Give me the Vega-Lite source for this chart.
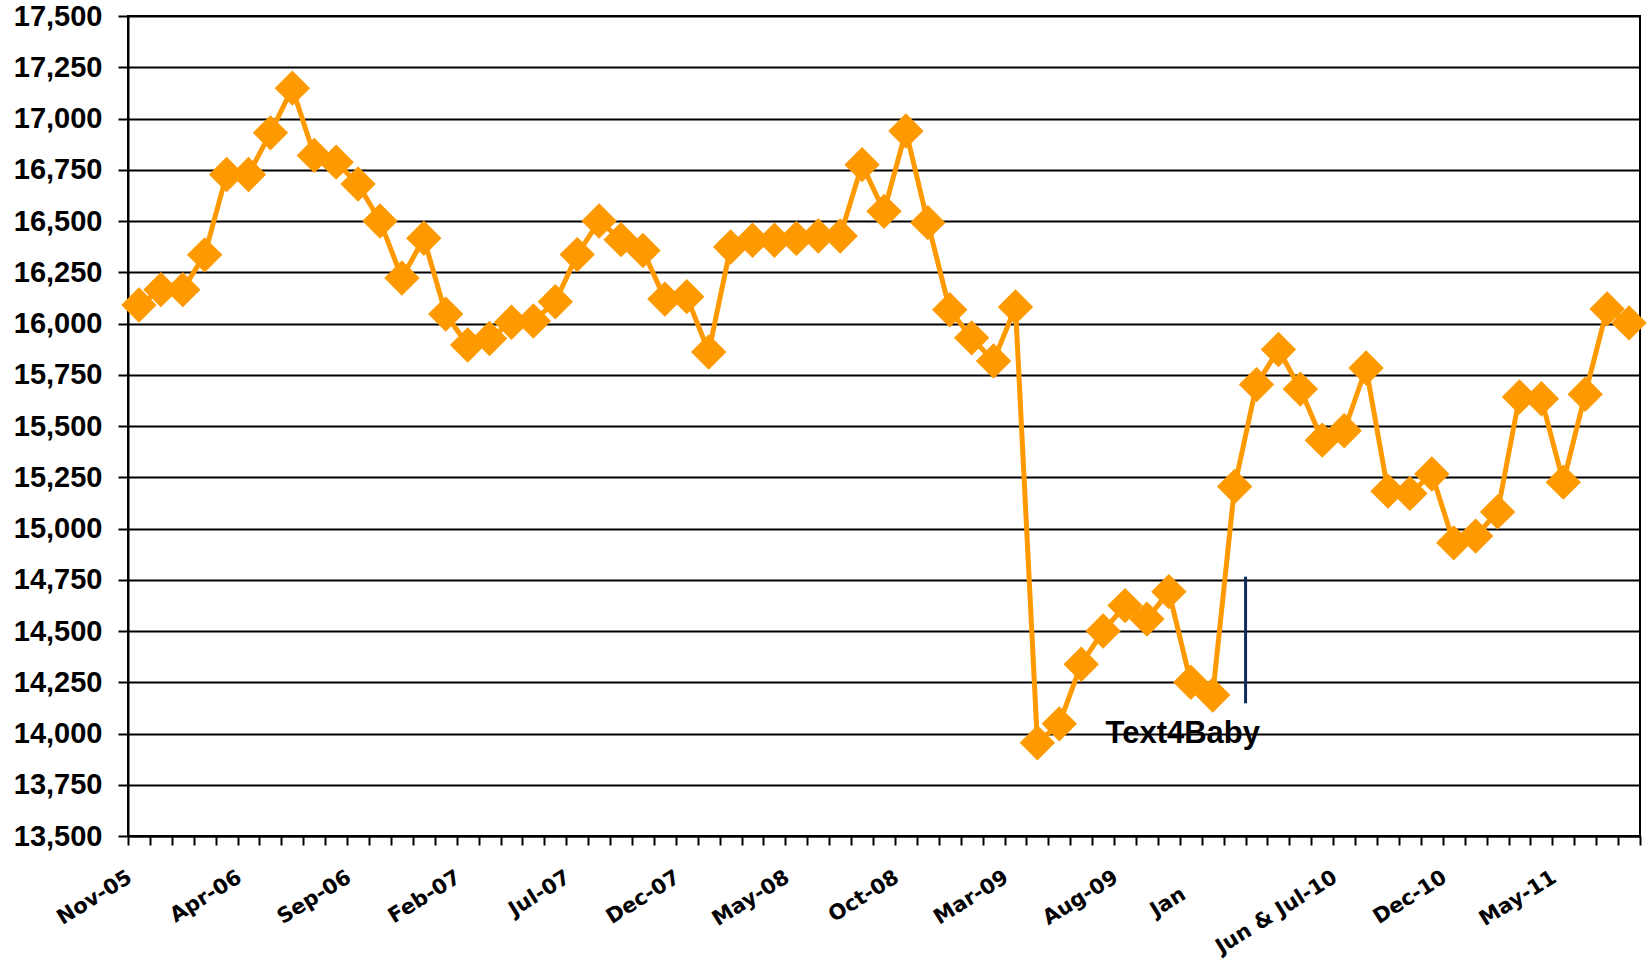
{
  "$schema": "https://vega.github.io/schema/vega-lite/v6.json",
  "width": 1512,
  "height": 820,
  "autosize": "none",
  "padding": {"left": 128, "top": 16, "right": 12, "bottom": 130},
  "background": "white",
  "config": {
    "view": {"stroke": "black", "strokeWidth": 2},
    "axis": {"labelFont": "Liberation Sans", "labelFontWeight": "bold", "labelColor": "black", "domainColor": "black", "domainWidth": 2, "tickColor": "black", "tickWidth": 2}
  },
  "data": {"values": [
    {"month": "Nov-05", "value": 16090},
    {"month": "Dec-05", "value": 16165},
    {"month": "Jan-06", "value": 16165},
    {"month": "Feb-06", "value": 16335},
    {"month": "Mar-06", "value": 16727},
    {"month": "Apr-06", "value": 16727},
    {"month": "May-06", "value": 16930},
    {"month": "Jun-06", "value": 17148},
    {"month": "Jul-06", "value": 16820},
    {"month": "Aug-06", "value": 16787},
    {"month": "Sep-06", "value": 16680},
    {"month": "Oct-06", "value": 16500},
    {"month": "Nov-06", "value": 16222},
    {"month": "Dec-06", "value": 16416},
    {"month": "Jan-07", "value": 16046},
    {"month": "Feb-07", "value": 15895},
    {"month": "Mar-07", "value": 15927},
    {"month": "Apr-07", "value": 16006},
    {"month": "May-07", "value": 16012},
    {"month": "Jun-07", "value": 16106},
    {"month": "Jul-07", "value": 16336},
    {"month": "Aug-07", "value": 16500},
    {"month": "Sep-07", "value": 16409},
    {"month": "Oct-07", "value": 16356},
    {"month": "Nov-07", "value": 16119},
    {"month": "Dec-07", "value": 16131},
    {"month": "Jan-08", "value": 15861},
    {"month": "Feb-08", "value": 16373},
    {"month": "Mar-08", "value": 16406},
    {"month": "Apr-08", "value": 16406},
    {"month": "May-08", "value": 16415},
    {"month": "Jun-08", "value": 16427},
    {"month": "Jul-08", "value": 16427},
    {"month": "Aug-08", "value": 16775},
    {"month": "Sep-08", "value": 16547},
    {"month": "Oct-08", "value": 16939},
    {"month": "Nov-08", "value": 16492},
    {"month": "Dec-08", "value": 16067},
    {"month": "Jan-09", "value": 15930},
    {"month": "Feb-09", "value": 15817},
    {"month": "Mar-09", "value": 16081},
    {"month": "Apr-09", "value": 13955},
    {"month": "May-09", "value": 14047},
    {"month": "Jun-09", "value": 14338},
    {"month": "Jul-09", "value": 14500},
    {"month": "Aug-09", "value": 14624},
    {"month": "Sep-09", "value": 14558},
    {"month": "Oct-09", "value": 14692},
    {"month": "Nov-09", "value": 14250},
    {"month": "Dec-09", "value": 14188},
    {"month": "Jan-10", "value": 15205},
    {"month": "Feb-10", "value": 15702},
    {"month": "Mar-10", "value": 15873},
    {"month": "Apr-10", "value": 15680},
    {"month": "May-10", "value": 15431},
    {"month": "Jun & Jul-10", "value": 15477},
    {"month": "Aug-10", "value": 15783},
    {"month": "Sep-10", "value": 15182},
    {"month": "Oct-10", "value": 15171},
    {"month": "Nov-10", "value": 15266},
    {"month": "Dec-10", "value": 14930},
    {"month": "Jan-11", "value": 14963},
    {"month": "Feb-11", "value": 15081},
    {"month": "Mar-11", "value": 15642},
    {"month": "Apr-11", "value": 15633},
    {"month": "May-11", "value": 15226},
    {"month": "Jun-11", "value": 15655},
    {"month": "Jul-11", "value": 16071},
    {"month": "Aug-11", "value": 16003}
  ]},
  "encoding": {
    "x": {
      "field": "month", "type": "ordinal", "sort": null,
      "scale": {"type": "band", "paddingInner": 0, "paddingOuter": 0},
      "axis": {
        "title": null, "tickBand": "extent", "tickSize": 9, "labelAngle": -32, "labelFontSize": 21, "labelFont": "DejaVu Sans",
        "labelAlign": "right", "labelBaseline": "top",
        "labelOffset": {"condition": {"test": "datum.value == 'Jan-10'", "value": -57}, "value": -15},
        "labelPadding": {"condition": {"test": "datum.value == 'Jan-10'", "value": 38}, "value": 21},
        "labelOverlap": false,
        "labelExpr": "indexof(['Nov-05','Apr-06','Sep-06','Feb-07','Jul-07','Dec-07','May-08','Oct-08','Mar-09','Aug-09','Jun & Jul-10','Dec-10','May-11'], datum.value) >= 0 ? datum.value : (datum.value == 'Jan-10' ? 'Jan' : '')"
      }
    }
  },
  "layer": [
    {
      "mark": {"type": "line", "color": "#FF9900", "strokeWidth": 5},
      "encoding": {
        "y": {
          "field": "value", "type": "quantitative",
          "scale": {"domain": [13500, 17500], "nice": false, "zero": false},
          "axis": {
            "title": null, "values": [13500, 13750, 14000, 14250, 14500, 14750, 15000, 15250, 15500, 15750, 16000, 16250, 16500, 16750, 17000, 17250, 17500],
            "format": ",.0f", "labelFontSize": 29, "tickSize": 10, "labelPadding": 16, "grid": true, "gridColor": "black", "gridWidth": 2
          }
        }
      }
    },
    {
      "mark": {"type": "point", "shape": "diamond", "filled": true, "size": 1250, "color": "#FF9900", "opacity": 1},
      "encoding": {"y": {"field": "value", "type": "quantitative"}}
    },
    {
      "transform": [{"filter": "datum.month == 'Feb-10'"}],
      "mark": {"type": "rule", "color": "#0B2C5C", "strokeWidth": 3},
      "encoding": {
        "x": {"field": "month", "type": "ordinal", "sort": null, "bandPosition": 0},
        "y": {"datum": 14765},
        "y2": {"datum": 14147}
      }
    },
    {
      "transform": [{"filter": "datum.month == 'Nov-09'"}],
      "mark": {"type": "text", "text": "Text4Baby", "font": "Liberation Sans", "fontWeight": "bold", "fontSize": 31, "color": "black", "align": "center", "baseline": "alphabetic", "dx": -8},
      "encoding": {"y": {"datum": 13954}}
    }
  ]
}
